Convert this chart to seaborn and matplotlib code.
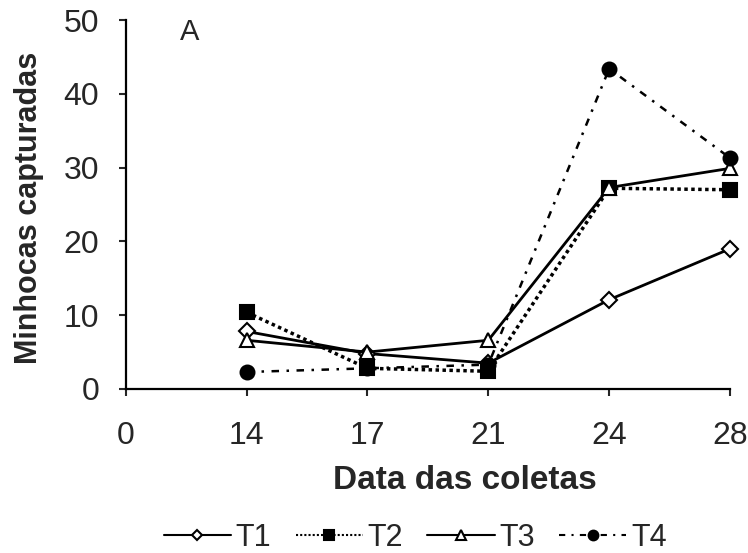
import pandas as pd
import matplotlib
matplotlib.use('Agg')
import matplotlib.pyplot as plt
import seaborn as sns

sns.set_style('white')
plt.rcParams['font.family'] = ['Liberation Sans', 'DejaVu Sans']

# dados
datas = ['14', '17', '21', '24', '28']
t1 = [7.8, 4.8, 3.5, 12.1, 19.0]
t2 = [10.4, 2.8, 2.4, 27.2, 27.0]
t3 = [6.6, 5.0, 6.6, 27.3, 29.9]
t4 = [2.3, 2.8, 3.3, 43.4, 31.3]
tratamentos = ['T1', 'T2', 'T3', 'T4']

pos = list(range(1, len(datas) + 1))
df = pd.DataFrame({'pos': pos * 4,
                   'valor': t1 + t2 + t3 + t4,
                   'trat': [t for t in tratamentos for _ in datas]})

estilos = {
    'T1': dict(linestyle='-', marker='D', markersize=8, markerfacecolor='white', linewidth=2),
    'T2': dict(linestyle=(0, (1, 1)), marker='s', markersize=10, markerfacecolor='black', linewidth=2.5),
    'T3': dict(linestyle='-', marker='^', markersize=10, markerfacecolor='white', linewidth=2),
    'T4': dict(linestyle=(0, (3, 3, 1, 3)), marker='o', markersize=10, markerfacecolor='black', linewidth=1.8),
}

fig = plt.figure(figsize=(7.48, 5.53), dpi=100)
ax = fig.add_axes([0.168, 0.2966, 0.808, 0.6672])

for t in tratamentos:
    sns.lineplot(data=df[df['trat'] == t], x='pos', y='valor', ax=ax, color='black',
                 markeredgecolor='black', markeredgewidth=1.5, label=t, clip_on=False,
                 **estilos[t])

ax.set_xlim(0, len(datas))
ax.set_ylim(0, 50)
ax.set_xticks(range(0, len(datas) + 1))
ax.set_xticklabels(['0'] + datas)
ax.set_yticks(range(0, 51, 10))
sns.despine(ax=ax)
for s in ['left', 'bottom']:
    ax.spines[s].set_linewidth(1.6)
    ax.spines[s].set_color('black')
ax.tick_params(axis='x', direction='out', length=5, width=1.5, labelsize=23, pad=18, bottom=True)
ax.tick_params(axis='y', direction='out', length=5, width=1.5, labelsize=23, pad=14, left=True)

ax.set_xlabel('Data das coletas', fontsize=24, fontweight='bold')
ax.set_ylabel('Minhocas capturadas', fontsize=22, fontweight='bold')
ax.xaxis.set_label_coords(0.561, -0.205)
ax.yaxis.set_label_coords(-0.135, 0.49)

ax.text(0.089, 0.946, 'A', transform=ax.transAxes, fontsize=21, va='baseline')

leg = ax.legend(loc='center', bbox_to_anchor=(0.555, 0.027), bbox_transform=fig.transFigure,
                ncol=4, frameon=False, fontsize=22, handlelength=2.2, handletextpad=0.15,
                columnspacing=0.8, markerscale=0.7)
for h in leg.get_lines():
    h.set_linewidth(1.5)

fig.savefig('out.png', dpi=100)
